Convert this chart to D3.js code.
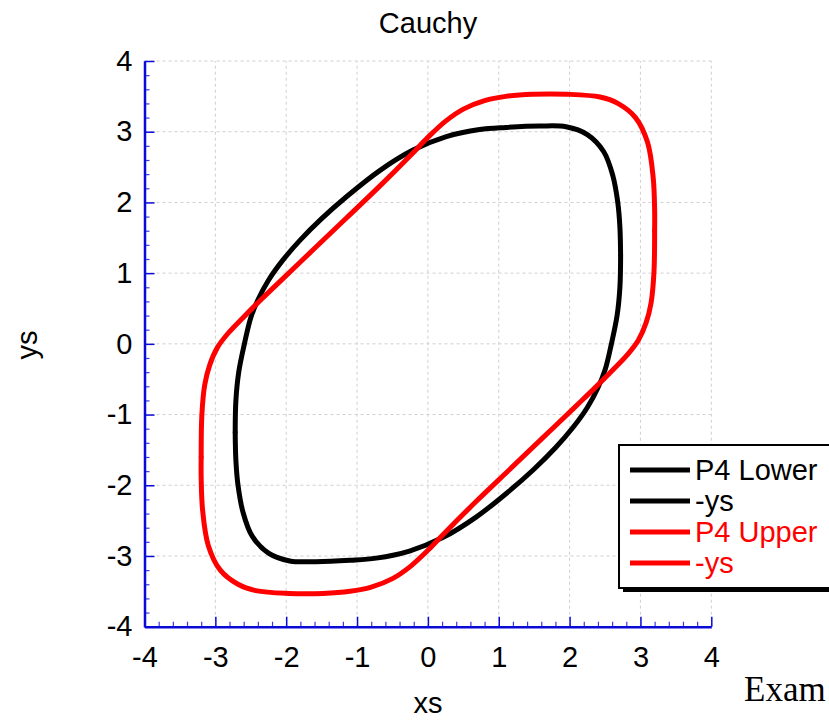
<!DOCTYPE html>
<html>
<head>
<meta charset="utf-8">
<script src="https://cdn.jsdelivr.net/npm/d3@7"></script>
<style>
  html, body { margin: 0; padding: 0; background: #fff; }
  svg { display: block; font-family: "Liberation Sans", Arial, sans-serif; }
</style>
</head>
<body>
<svg id="chart" width="829" height="720"></svg>
<script>
// Upper branch of the P4 Lower contour (the "-ys" series is its point reflection)
const lowerXs = [-2.72, -2.71, -2.67, -2.59, -2.50, -2.40, -2.25, -2.05, -1.80, -1.50, -1.15, -0.68, -0.21,
                 0.26, 0.73, 1.10, 1.58, 1.95, 2.25, 2.48, 2.61, 2.68, 2.71, 2.72];
const lowerYs = [-1.25, -0.80, -0.40, 0.00, 0.37, 0.62, 0.90, 1.18, 1.47, 1.77, 2.08, 2.45, 2.74,
                 2.93, 3.03, 3.06, 3.08, 3.07, 2.96, 2.72, 2.38, 2.00, 1.65, 1.25];

// Upper branch of the P4 Upper contour
const upperXs = [-3.20, -3.19, -3.15, -3.08, -2.97, -2.82, -2.62, -2.35, -2.09, -1.62, -1.15, -0.68, -0.25,
                 0.00, 0.25, 0.50, 0.80, 1.10, 1.48, 1.96, 2.43, 2.68, 2.93, 3.10, 3.18, 3.20, 3.20];
const upperYs = [-1.60, -1.00, -0.58, -0.30, -0.05, 0.15, 0.36, 0.63, 0.88, 1.33, 1.78, 2.23, 2.66,
                 2.92, 3.15, 3.32, 3.44, 3.50, 3.53, 3.53, 3.49, 3.40, 3.20, 2.85, 2.35, 1.90, 1.60];

const xTickValues = [-4, -3, -2, -1, 0, 1, 2, 3, 4];
const xTickLabels = ["-4", "-3", "-2", "-1", "0", "1", "2", "3", "4"];
const yTickValues = [-4, -3, -2, -1, 0, 1, 2, 3, 4];
const yTickLabels = ["-4", "-3", "-2", "-1", "0", "1", "2", "3", "4"];
const minorStep = 0.2;

const legendLabels = ["P4 Lower", "-ys", "P4 Upper", "-ys"];
const seriesColors = ["#000000", "#000000", "#ff0000", "#ff0000"];

const svg = d3.select("#chart");
const axisColor = "#0a0ad8";
const fontSize = 29;

const x = d3.scaleLinear().domain([-4, 4]).range([144.5, 711.3]);
const y = d3.scaleLinear().domain([-4, 4]).range([626.7, 61]);

// Dashed grid
const grid = svg.append("g");
grid.selectAll("line.gx").data(xTickValues).join("line")
  .attr("x1", d => x(d)).attr("x2", d => x(d))
  .attr("y1", y(-4)).attr("y2", y(4))
  .attr("stroke", "#cfcfcf").attr("stroke-width", 1).attr("stroke-dasharray", "3,3");
grid.selectAll("line.gy").data(yTickValues).join("line")
  .attr("y1", d => y(d)).attr("y2", d => y(d))
  .attr("x1", x(-4)).attr("x2", x(4))
  .attr("stroke", "#cfcfcf").attr("stroke-width", 1).attr("stroke-dasharray", "3,3");

// Series
const series = [
  lowerXs.map((v, i) => [v, lowerYs[i]]),
  lowerXs.map((v, i) => [-v, -lowerYs[i]]),
  upperXs.map((v, i) => [v, upperYs[i]]),
  upperXs.map((v, i) => [-v, -upperYs[i]])
];
const line = d3.line().x(d => x(d[0])).y(d => y(d[1])).curve(d3.curveCatmullRom.alpha(0.5));
svg.append("g").selectAll("path").data(series).join("path")
  .attr("d", line)
  .attr("fill", "none")
  .attr("stroke", (d, i) => seriesColors[i])
  .attr("stroke-width", 5)
  .attr("stroke-linecap", "round")
  .attr("stroke-linejoin", "round");

// Axes
const minorTicks = d3.range(-4, 4.0001, minorStep).map(v => Math.round(v * 10) / 10)
  .filter(v => Math.abs(v - Math.round(v)) > 1e-6);

function styleAxis(g) {
  g.select(".domain").attr("stroke", axisColor).attr("stroke-width", 2.5);
  g.selectAll(".tick line").attr("stroke", axisColor).attr("stroke-width", 1.5);
  g.selectAll(".tick text").attr("fill", "#000").attr("font-size", fontSize)
    .attr("font-family", "'Liberation Sans', Arial, sans-serif");
}

const xMinor = svg.append("g").attr("transform", `translate(0,${y(-4)})`)
  .call(d3.axisBottom(x).tickValues(minorTicks).tickSize(-5).tickFormat(""));
xMinor.select(".domain").remove();
xMinor.selectAll(".tick line").attr("stroke", axisColor).attr("stroke-width", 1.2).attr("opacity", 0.8);

const yMinor = svg.append("g").attr("transform", `translate(${x(-4)},0)`)
  .call(d3.axisLeft(y).tickValues(minorTicks).tickSize(-5).tickFormat(""));
yMinor.select(".domain").remove();
yMinor.selectAll(".tick line").attr("stroke", axisColor).attr("stroke-width", 1.2).attr("opacity", 0.8);

const xAxis = svg.append("g").attr("transform", `translate(0,${y(-4)})`)
  .call(d3.axisBottom(x).tickValues(xTickValues).tickSizeInner(-10).tickSizeOuter(0)
    .tickPadding(20).tickFormat((d, i) => xTickLabels[i]));
styleAxis(xAxis);

const yAxis = svg.append("g").attr("transform", `translate(${x(-4)},0)`)
  .call(d3.axisLeft(y).tickValues(yTickValues).tickSizeInner(-10).tickSizeOuter(0)
    .tickPadding(12).tickFormat((d, i) => yTickLabels[i]));
styleAxis(yAxis);

// Titles
svg.append("text").attr("x", 428).attr("y", 33).attr("text-anchor", "middle")
  .attr("font-size", fontSize).text("Cauchy");
svg.append("text").attr("x", 428).attr("y", 713).attr("text-anchor", "middle")
  .attr("font-size", fontSize).text("xs");
svg.append("text").attr("transform", "translate(37,345) rotate(-90)").attr("text-anchor", "middle")
  .attr("font-size", fontSize).text("ys");

// Legend
const legend = svg.append("g");
legend.append("rect").attr("x", 623).attr("y", 449).attr("width", 240).attr("height", 143)
  .attr("fill", "#000");
legend.append("rect").attr("x", 619).attr("y", 445).attr("width", 240).attr("height", 143)
  .attr("fill", "#fff").attr("stroke", "#000").attr("stroke-width", 2);
const rows = legend.selectAll("g.row").data(legendLabels).join("g")
  .attr("transform", (d, i) => `translate(0,${470 + i * 31})`);
rows.append("line").attr("x1", 630).attr("x2", 690).attr("y1", 0).attr("y2", 0)
  .attr("stroke", (d, i) => seriesColors[i]).attr("stroke-width", 5);
rows.append("text").attr("x", 695).attr("y", 0).attr("dy", "0.36em")
  .attr("font-size", fontSize).attr("fill", (d, i) => seriesColors[i]).text(d => d);

// Caption fragment at the lower right
svg.append("text").attr("x", 744).attr("y", 701)
  .attr("font-family", "'Liberation Serif', 'Times New Roman', serif")
  .attr("font-size", 35).attr("fill", "#000").text("Exam");
</script>
</body>
</html>
